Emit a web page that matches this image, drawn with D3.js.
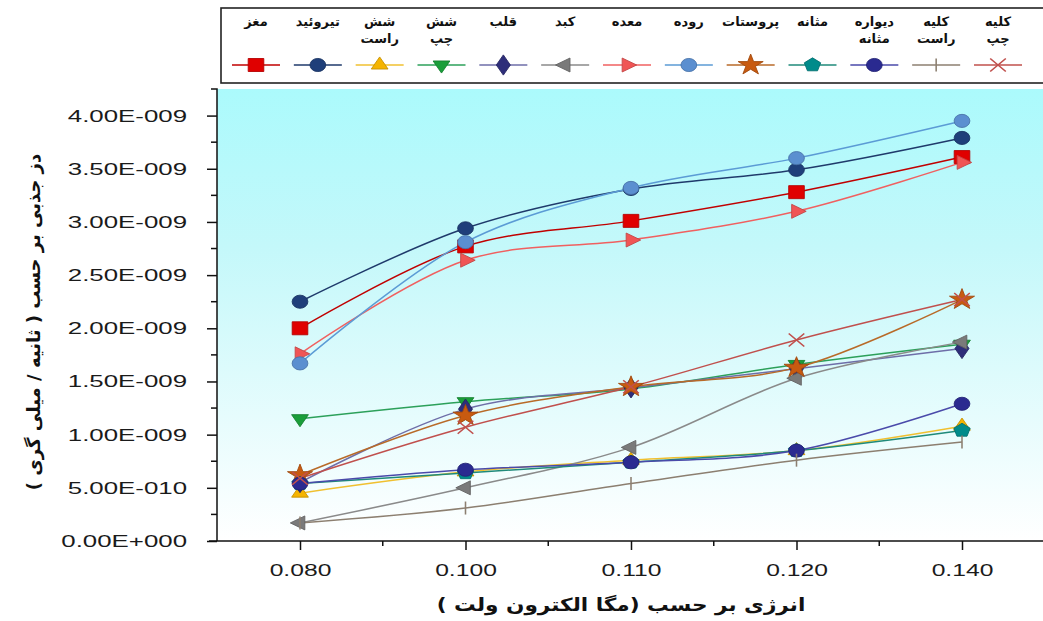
<!DOCTYPE html>
<html>
<head>
<meta charset="utf-8">
<script src="https://cdn.jsdelivr.net/npm/d3@7"></script>
<style>
  body { margin: 0; background: #fff; }
  svg { display: block; }
</style>
</head>
<body>
<div id="container"></div>
<script>
// energy categories (MeV)
var energies = ["0.080", "0.100", "0.110", "0.120", "0.140"];

// absorbed dose rate, in units of 1e-9
var brain       = [2.00, 2.77, 3.01, 3.28, 3.61];
var thyroid     = [2.25, 2.94, 3.31, 3.49, 3.79];
var rightLung   = [0.45, 0.65, 0.76, 0.85, 1.08];
var leftLung    = [1.15, 1.31, 1.43, 1.66, 1.85];
var heart       = [0.55, 1.24, 1.44, 1.62, 1.81];
var liver       = [0.17, 0.50, 0.88, 1.53, 1.87];
var stomach     = [1.76, 2.64, 2.83, 3.10, 3.56];
var intestine   = [1.67, 2.81, 3.32, 3.60, 3.95];
var prostate    = [0.62, 1.18, 1.45, 1.63, 2.27];
var bladder     = [0.54, 0.64, 0.74, 0.85, 1.04];
var bladderWall = [0.54, 0.67, 0.74, 0.85, 1.29];
var rightKidney = [0.17, 0.31, 0.54, 0.76, 0.93];
var leftKidney  = [0.59, 1.07, 1.45, 1.89, 2.27];

var yTicks = [0, 0.5e-9, 1e-9, 1.5e-9, 2e-9, 2.5e-9, 3e-9, 3.5e-9, 4e-9];

var series = [
  {name: ["مغز"],            vals: brain,       line: "#c00000", fill: "#e00000", shape: "square"},
  {name: ["تیروئید"],        vals: thyroid,     line: "#1f3a6b", fill: "#1f3f7a", shape: "circle"},
  {name: ["شش", "راست"],     vals: rightLung,   line: "#f0c030", fill: "#f5b400", shape: "triUp"},
  {name: ["شش", "چپ"],       vals: leftLung,    line: "#2ca05a", fill: "#1a9e3a", shape: "triDown"},
  {name: ["قلب"],            vals: heart,       line: "#6e6ea8", fill: "#2e2e7a", shape: "diamond"},
  {name: ["کبد"],            vals: liver,       line: "#8a8a8a", fill: "#7a7a7a", shape: "triLeft"},
  {name: ["معده"],           vals: stomach,     line: "#f06060", fill: "#f05555", shape: "triRight"},
  {name: ["روده"],           vals: intestine,   line: "#5b9bd5", fill: "#5b8fd0", shape: "circle"},
  {name: ["پروستات"],        vals: prostate,    line: "#b86a28", fill: "#c85a10", shape: "star"},
  {name: ["مثانه"],          vals: bladder,     line: "#1f8a7a", fill: "#008b8b", shape: "pentagon"},
  {name: ["دیواره", "مثانه"], vals: bladderWall, line: "#4a4aaa", fill: "#2a2a90", shape: "circle"},
  {name: ["کلیه", "راست"],   vals: rightKidney, line: "#8c7f70", fill: "none",    shape: "plus"},
  {name: ["کلیه", "چپ"],     vals: leftKidney,  line: "#c0504d", fill: "none",    shape: "x"}
];

var W = 1043, H = 621;
var svg = d3.select("#container").append("svg")
  .attr("width", W).attr("height", H);

var plotL = 217, plotT = 89, plotB = 541, plotR = 1043;
var stretch = 1.45;   // the source picture is widened horizontally

var x = d3.scalePoint().domain(energies).range([300, 962]);
var y = d3.scaleLinear().domain([0, 4.25e-9]).range([plotB, plotT]);

// background gradient
var grad = svg.append("defs").append("linearGradient")
  .attr("id", "bg").attr("x1", 0).attr("y1", 0).attr("x2", 0).attr("y2", 1);
grad.append("stop").attr("offset", "0%").attr("stop-color", "#abfafc");
grad.append("stop").attr("offset", "35%").attr("stop-color", "#c4f8fa");
grad.append("stop").attr("offset", "100%").attr("stop-color", "#ffffff");

svg.append("rect")
  .attr("x", plotL).attr("y", plotT)
  .attr("width", plotR - plotL).attr("height", plotB - plotT)
  .attr("fill", "url(#bg)");

function symbolPath(shape, s) {
  var p = d3.path();
  if (shape === "square") return d3.symbol(d3.symbolSquare, s * s)();
  if (shape === "circle") return d3.symbol(d3.symbolCircle, s * s * 0.8)();
  if (shape === "diamond") return d3.symbol(d3.symbolDiamond, s * s * 0.7)();
  if (shape === "star") return d3.symbol(d3.symbolStar, s * s * 0.8)();
  if (shape.indexOf("tri") === 0) {
    var rot = {triUp: 0, triRight: 90, triDown: 180, triLeft: 270}[shape];
    var r = s * 0.62;
    for (var i = 0; i < 3; i++) {
      var a = (rot + i * 120 - 90) * Math.PI / 180;
      if (i === 0) p.moveTo(r * Math.cos(a), r * Math.sin(a));
      else p.lineTo(r * Math.cos(a), r * Math.sin(a));
    }
    p.closePath();
    return p.toString();
  }
  if (shape === "pentagon") {
    var rp = s * 0.55;
    for (var k = 0; k < 5; k++) {
      var b = (k * 72 - 90) * Math.PI / 180;
      if (k === 0) p.moveTo(rp * Math.cos(b), rp * Math.sin(b));
      else p.lineTo(rp * Math.cos(b), rp * Math.sin(b));
    }
    p.closePath();
    return p.toString();
  }
  var h = s * 0.5;
  if (shape === "plus") {
    p.moveTo(0, -h); p.lineTo(0, h);
    return p.toString();
  }
  if (shape === "x") {
    p.moveTo(-h, -h); p.lineTo(h, h);
    p.moveTo(-h, h); p.lineTo(h, -h);
    return p.toString();
  }
}

function drawMarker(g, d, cx, cy) {
  var strokeOnly = d.shape === "plus" || d.shape === "x";
  g.append("path")
    .attr("transform", "translate(" + cx + "," + cy + ") scale(1.2,1)")
    .attr("d", symbolPath(d.shape, 13))
    .attr("fill", strokeOnly ? "none" : d.fill)
    .attr("stroke", strokeOnly ? d.line : d3.color(d.fill).darker(0.6))
    .attr("stroke-width", strokeOnly ? 1.3 : 0.8);
}

// widen a text horizontally, like the source
function widen(sel, k) {
  sel.each(function() {
    var w = this.getComputedTextLength();
    d3.select(this).attr("textLength", w * k).attr("lengthAdjust", "spacingAndGlyphs");
  });
}

// lines
var line = d3.line()
  .x(function(v, i) { return x(energies[i]); })
  .y(function(v) { return y(v * 1e-9); })
  .curve(d3.curveCatmullRom.alpha(0.5));

var plot = svg.append("g");
series.forEach(function(d) {
  plot.append("path")
    .attr("d", line(d.vals))
    .attr("fill", "none")
    .attr("stroke", d.line)
    .attr("stroke-width", 1.5);
});
series.forEach(function(d) {
  d.vals.forEach(function(v, i) {
    drawMarker(plot, d, x(energies[i]), y(v * 1e-9));
  });
});

// axes
var yAxis = svg.append("g").attr("transform", "translate(" + plotL + ",0)")
  .call(d3.axisLeft(y).tickValues(yTicks).tickSize(10).tickPadding(20)
    .tickFormat(function(v) {
      if (v === 0) return "0.00E+000";
      var e = Math.floor(Math.log10(v) + 1e-9);
      var m = v / Math.pow(10, e);
      return m.toFixed(2) + "E-" + d3.format("03d")(-e);
    }));
yAxis.select(".domain").attr("stroke", "#111").attr("stroke-width", 1.5)
  .attr("d", "M-6," + plotT + "H0V" + plotB);
yAxis.selectAll(".tick line").attr("stroke", "#111").attr("stroke-width", 1.5);
yAxis.selectAll("text")
  .attr("font-family", "Liberation Sans, Arial, sans-serif")
  .attr("font-size", 17).attr("fill", "#1a1a1a")
  .call(widen, 1.52);

yAxis.selectAll(".minor").data(yTicks.slice(0, -1)).enter().append("line")
  .attr("x1", -6).attr("x2", 0)
  .attr("y1", function(v) { return y(v + 0.25e-9); })
  .attr("y2", function(v) { return y(v + 0.25e-9); })
  .attr("stroke", "#111").attr("stroke-width", 1.5);

var xAxis = svg.append("g").attr("transform", "translate(0," + plotB + ")")
  .call(d3.axisBottom(x).tickSize(9).tickPadding(14));
xAxis.select(".domain").attr("stroke", "#111").attr("stroke-width", 1.5)
  .attr("d", "M" + (plotL - 8) + ",0H" + plotR);
xAxis.selectAll(".tick line").attr("stroke", "#111").attr("stroke-width", 1.5);
xAxis.selectAll("text")
  .attr("font-family", "Liberation Sans, Arial, sans-serif")
  .attr("font-size", 17).attr("fill", "#1a1a1a")
  .call(widen, stretch);

var step = x.step();
xAxis.selectAll(".minor").data(energies.slice(0, -1)).enter().append("line")
  .attr("x1", function(e) { return x(e) + step / 2; })
  .attr("x2", function(e) { return x(e) + step / 2; })
  .attr("y1", 0).attr("y2", 5)
  .attr("stroke", "#111").attr("stroke-width", 1.5);

// axis titles
svg.append("text")
  .attr("x", 621).attr("y", 611)
  .attr("text-anchor", "middle")
  .attr("direction", "rtl")
  .attr("font-family", "DejaVu Sans, sans-serif")
  .attr("font-weight", "bold").attr("font-size", 18).attr("fill", "#111")
  .text("انرژی بر حسب (مگا الکترون ولت )")
  .call(widen, 1.2);

svg.append("text")
  .attr("transform", "translate(40,322) rotate(-90)")
  .attr("text-anchor", "middle")
  .attr("direction", "rtl")
  .attr("font-family", "DejaVu Sans, sans-serif")
  .attr("font-weight", "bold").attr("font-size", 18).attr("fill", "#111")
  .text("دز جذبی بر حسب ( ثانیه / میلی گری )");

// legend
var legend = svg.append("g");
legend.append("rect")
  .attr("x", 221).attr("y", 8).attr("width", 840).attr("height", 75)
  .attr("fill", "#fff").attr("stroke", "#222").attr("stroke-width", 1.6);

var lx = d3.scalePoint().domain(d3.range(series.length)).range([256, 998]);
series.forEach(function(d, i) {
  var cx = lx(i);
  var g = legend.append("g");
  d.name.forEach(function(t, j) {
    g.append("text")
      .attr("x", cx).attr("y", 26 + j * 17)
      .attr("text-anchor", "middle")
      .attr("direction", "rtl")
      .attr("font-family", "DejaVu Sans, sans-serif")
      .attr("font-weight", "bold").attr("font-size", 13).attr("fill", "#111")
      .text(t);
  });
  g.append("line")
    .attr("x1", cx - 24).attr("x2", cx + 24)
    .attr("y1", 65).attr("y2", 65)
    .attr("stroke", d.line).attr("stroke-width", 1.6);
  drawMarker(g, d, cx, 65);
});
</script>
</body>
</html>
